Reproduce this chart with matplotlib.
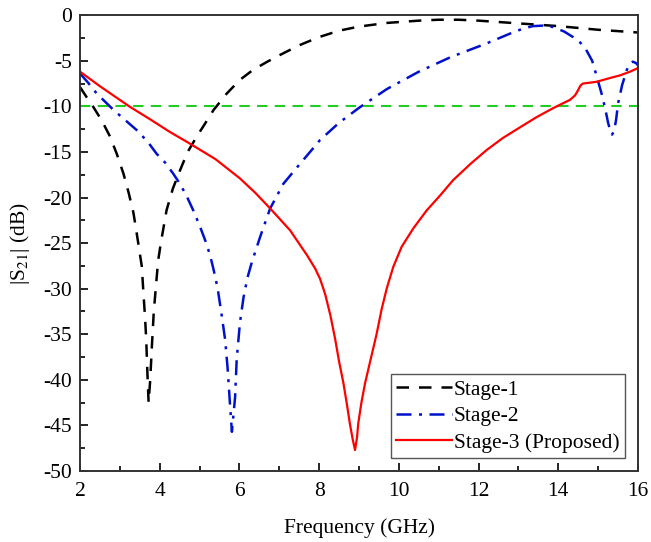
import matplotlib
matplotlib.use("Agg")
import matplotlib.pyplot as plt
from matplotlib.ticker import MultipleLocator

plt.rcParams['font.family'] = ['Liberation Serif', 'DejaVu Serif']
plt.rcParams['mathtext.fontset'] = 'stix'

# Stage-1 (black dashed)
f1 = [2.0, 2.15, 2.33, 2.55, 2.75, 2.92, 3.09, 3.22, 3.34, 3.46, 3.55, 3.59, 3.63, 3.66,
      3.69, 3.72, 3.76, 3.80, 3.85, 3.91, 3.96, 4.03, 4.17, 4.33, 4.51, 4.7, 4.93, 5.15,
      5.35, 5.68, 6.01, 6.34, 6.7, 7.0, 7.5, 8.0, 8.5, 9.0, 9.7, 10.5, 11.0, 11.5, 12.0,
      12.5, 13.0, 13.5, 14.0, 14.5, 15.0, 15.5, 16.0]
s1 = [-7.9, -8.9, -10.05, -11.6, -13.3, -15.2, -17.4, -19.5, -21.7, -25.0, -27.6, -30.5, -33.1, -35.6,
      -39.3, -42.5, -40.0, -36.5, -32.5, -29.4, -26.9, -24.9, -21.4, -19.0, -17.0, -15.0, -13.3, -11.8,
      -10.4, -8.6, -7.1, -6.0, -5.1, -4.4, -3.3, -2.4, -1.7, -1.25, -0.85, -0.6, -0.5, -0.5, -0.6,
      -0.75, -0.9, -1.05, -1.2, -1.4, -1.6, -1.75, -1.9]

# Stage-2 (blue dash-dot)
f2 = [2.0, 2.2, 2.42, 2.63, 2.84, 3.13, 3.42, 3.7, 3.92, 4.14, 4.34, 4.52, 4.68, 4.85, 5.01,
      5.14, 5.26, 5.35, 5.45, 5.55, 5.64, 5.70, 5.75, 5.78, 5.81, 5.85, 5.89, 5.93, 6.01, 6.10,
      6.2, 6.31, 6.52, 6.77, 7.10, 7.52, 7.81, 8.02, 8.5, 9.02, 9.7, 10.5, 11.3, 12.2, 12.8,
      13.1, 13.36, 13.6, 13.87, 14.15, 14.37, 14.55, 14.7, 14.85, 14.97, 15.08, 15.17, 15.25,
      15.3, 15.35, 15.40, 15.45, 15.5, 15.6, 15.72, 15.8, 15.87, 15.95, 16.0]
s2 = [-6.4, -7.4, -8.6, -9.5, -10.4, -11.5, -12.6, -13.9, -15.2, -16.2, -17.4, -18.6, -19.9, -21.5, -23.2,
      -24.7, -26.3, -27.9, -29.9, -32.8, -35.6, -38.6, -41.9, -43.8, -45.7, -43.8, -41.9, -37.8, -33.8, -31.0,
      -28.8, -27.1, -24.3, -21.2, -18.5, -16.3, -14.8, -13.7, -11.8, -10.1, -8.1, -6.2, -4.6, -3.1, -2.0,
      -1.5, -1.2, -1.15, -1.3, -1.8, -2.4, -3.0, -3.8, -5.0, -6.8, -8.5, -10.1, -11.8,
      -12.6, -13.1, -12.7, -11.5, -9.7, -7.7, -6.0, -5.3, -5.1, -5.25, -5.5]

# Stage-3 (red solid)
f3 = [2.0, 2.5, 3.0, 3.25, 3.75, 4.25, 4.76, 5.4, 6.01, 6.4, 6.77, 7.27, 7.69, 7.9, 8.02, 8.15,
      8.28, 8.40, 8.50, 8.61, 8.70, 8.77, 8.84, 8.90, 8.95, 8.98, 9.06, 9.15, 9.30, 9.44, 9.57,
      9.70, 9.86, 10.07, 10.36, 10.7, 11.03, 11.36, 11.8, 12.2, 12.6, 13.04, 13.45, 13.87, 14.1,
      14.29, 14.42, 14.5, 14.56, 14.62, 14.8, 14.97, 15.25, 15.55, 15.8, 16.0]
s3 = [-6.2, -7.8, -9.3, -10.05, -11.4, -12.8, -14.1, -15.8, -17.9, -19.5, -21.2, -23.6, -26.3, -27.8, -28.9, -30.6,
      -32.9, -35.5, -38.0, -40.4, -42.8, -44.8, -46.5, -47.7, -46.3, -44.8, -42.5, -40.4, -37.6, -35.0, -32.2,
      -29.9, -27.6, -25.4, -23.4, -21.4, -19.8, -18.1, -16.3, -14.8, -13.5, -12.3, -11.2, -10.2, -9.7,
      -9.3, -8.8, -8.2, -7.7, -7.5, -7.4, -7.3, -6.95, -6.6, -6.2, -5.8]

ref_f = [2, 16]
ref_db = [-10, -10]

xticks = [2, 4, 6, 8, 10, 12, 14, 16]
yticks = [0, -5, -10, -15, -20, -25, -30, -35, -40, -45, -50]

fig = plt.figure(figsize=(6.51, 5.42), dpi=100)
ax = fig.add_axes([0.123, 0.131, 0.857, 0.841])

ax.plot(ref_f, ref_db, color='#22cc22', lw=1.5, dashes=(5, 3.5))
l1, = ax.plot(f1, s1, color='black', lw=1.8, dashes=(5, 4), label='Stage-1')
l2, = ax.plot(f2, s2, color='#0011cc', lw=1.8, dashes=(6, 3, 1.2, 3), label='Stage-2')
l3, = ax.plot(f3, s3, color='#ff0000', lw=1.6, label='Stage-3 (Proposed)')

ax.set_xlim(2, 16)
ax.set_ylim(-50, 0)
ax.set_xticks(xticks)
ax.set_yticks(yticks)
ax.set_xticklabels([str(t) for t in xticks])
ax.set_yticklabels([str(t) for t in yticks])
ax.xaxis.set_minor_locator(MultipleLocator(1))
ax.yaxis.set_minor_locator(MultipleLocator(2.5))
ax.tick_params(which='both', direction='in', top=False, right=False, labelsize=15.5, width=1.2)
ax.tick_params(which='major', length=6)
ax.tick_params(which='minor', length=3.5)
ax.tick_params(axis='x', which='major', pad=8)
ax.tick_params(axis='y', which='major', pad=6)
for sp in ax.spines.values():
    sp.set_linewidth(1.4)
    sp.set_color('#333333')

ax.set_xlabel('Frequency (GHz)', fontsize=15.5, labelpad=12)
ax.set_ylabel(r'|S$_{\mathrm{21}}$| (dB)', fontsize=15.5, labelpad=8)

leg = ax.legend(handles=[l1, l2, l3], loc='lower right', fontsize=15.5, frameon=True,
                fancybox=False, edgecolor='#555555', framealpha=1, handlelength=2.6,
                handletextpad=0.1, labelspacing=0.3, borderpad=0.25, borderaxespad=0.6)
leg.get_frame().set_linewidth(1.0)

fig.savefig('out.png', dpi=100)
